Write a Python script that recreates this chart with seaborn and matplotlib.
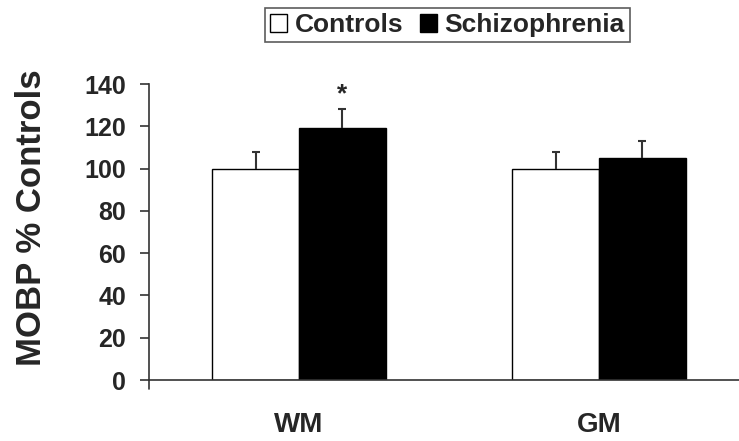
import matplotlib
matplotlib.use("Agg")
import matplotlib.pyplot as plt
import seaborn as sns
import pandas as pd
import numpy as np

regions = ["WM", "GM"]
groups = ["Controls", "Schizophrenia"]
controls_mean = [100, 100]
schizo_mean = [119, 105]
controls_err = [8, 8]
schizo_err = [9, 8]
yticks = [0, 20, 40, 60, 80, 100, 120, 140]

df = pd.DataFrame({
    "region": regions * 2,
    "group": [groups[0]] * 2 + [groups[1]] * 2,
    "value": controls_mean + schizo_mean,
})
errs = [controls_err, schizo_err]

sns.set_style("white")
plt.rcParams["font.family"] = ["Liberation Sans", "DejaVu Sans"]
plt.rcParams["font.weight"] = "bold"

fig = plt.figure(figsize=(7.39, 4.41), dpi=100)
ax = fig.add_axes([149 / 739, 61 / 441, 600 / 739, 296 / 441])

sns.barplot(data=df, x="region", y="value", hue="group", order=regions,
            hue_order=groups, palette=["white", "black"], edgecolor="black",
            linewidth=1.0, width=0.577, gap=0, errorbar=None, ax=ax)

# upward-only error bars (stem + top cap), positioned from the drawn bars
cap_half = 0.014
for cont, e in zip(ax.containers, errs):
    xs = np.array([b.get_x() + b.get_width() / 2 for b in cont])
    hs = np.array([b.get_height() for b in cont])
    tops = hs + np.array(e)
    ax.vlines(xs, hs, tops, colors="#333333", linewidth=1.5, zorder=3)
    ax.hlines(tops, xs - cap_half, xs + cap_half, colors="#333333", linewidth=1.5, zorder=3)

# significance asterisk above WM schizophrenia bar
b = ax.containers[1][0]
ax.text(b.get_x() + b.get_width() / 2, b.get_height() + schizo_err[0] + 7.2, "*",
        ha="center", va="center", fontsize=19, fontweight="bold")

ax.set_ylim(0, 140)
ax.set_xlim(-0.5, 1.5)
ax.set_yticks(yticks)
ax.set_yticklabels([str(t) for t in yticks], fontsize=18, fontweight="bold")
ax.set_xticks([0, 1])
ax.set_xticklabels(regions, fontsize=20, fontweight="bold")
ax.set_xticks([-0.5, 0.5, 1.5], minor=True)
ax.tick_params(axis="x", which="major", length=0, pad=23)
ax.tick_params(axis="x", which="minor", length=6.5, width=1.2, direction="out", color="#333333")
ax.tick_params(axis="y", which="major", length=6.5, width=1.2, direction="out", pad=10,
               color="#333333", left=True)
ax.set_xlabel("")
ax.set_ylabel("MOBP % Controls", fontsize=25, fontweight="bold")
ax.yaxis.set_label_coords(-0.168, 0.55)

for s in ["top", "right"]:
    ax.spines[s].set_visible(False)
for s in ["left", "bottom"]:
    ax.spines[s].set_color("#333333")
    ax.spines[s].set_linewidth(1.2)
ax.spines["left"].set_bounds(0, 140)

# extend y-axis a little below zero (Excel-style)
ax.plot([-0.5, -0.5], [0, -9 / 2.114], color="#333333", lw=1.2, clip_on=False)

handles, labels = ax.get_legend_handles_labels()
if ax.get_legend() is not None:
    ax.get_legend().remove()
leg = fig.legend(handles, labels, loc="center", bbox_to_anchor=(447.5 / 739, 1 - 25 / 441),
                 ncol=2, frameon=True, fancybox=False, prop={"size": 19, "weight": "bold"},
                 handlelength=0.65, handleheight=0.65, handletextpad=0.3, columnspacing=0.6,
                 borderpad=0.2, borderaxespad=0)
leg.get_frame().set_edgecolor("#333333")
leg.get_frame().set_linewidth(1.2)

fig.savefig("out.png", dpi=100)
